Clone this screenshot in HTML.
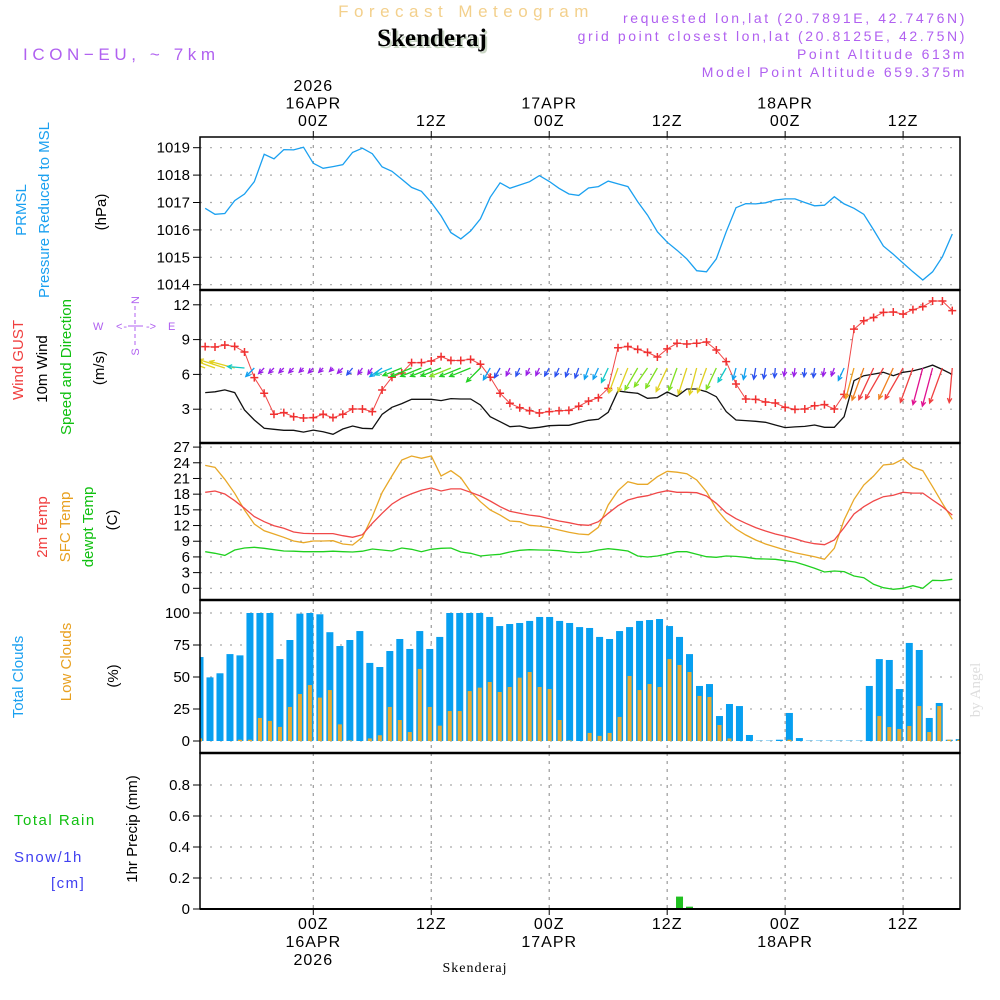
<!DOCTYPE html>
<html><head><meta charset="utf-8"><style>
body{margin:0;background:#fff}
svg{display:block}
text{font-family:"Liberation Sans",sans-serif}
</style></head><body>
<svg id="chart" width="1000" height="1000" viewBox="0 0 1000 1000" xmlns="http://www.w3.org/2000/svg">
<defs>
<clipPath id="c1"><rect x="200" y="137" width="760" height="153"/></clipPath>
<clipPath id="c2"><rect x="200" y="290" width="760" height="153"/></clipPath>
<clipPath id="c3"><rect x="200" y="443" width="760" height="157"/></clipPath>
<clipPath id="c4"><rect x="200" y="600" width="760" height="153"/></clipPath>
<clipPath id="c5"><rect x="200" y="753" width="760" height="156"/></clipPath>
</defs>
<text x="466" y="17" fill="#f3d08c" font-size="17" letter-spacing="5.5" text-anchor="middle">Forecast Meteogram</text>
<text x="434" y="48" fill="#c9d6c4" font-size="25" font-weight="bold" text-anchor="middle" style="font-family:'Liberation Serif',serif">Skenderaj</text>
<text x="432" y="46" fill="#000" font-size="25" font-weight="bold" text-anchor="middle" style="font-family:'Liberation Serif',serif">Skenderaj</text>
<text x="23" y="60" fill="#b060f0" font-size="17" letter-spacing="4.6">ICON−EU, ~ 7km</text>
<g fill="#b060f0" font-size="14" text-anchor="end" letter-spacing="2.6">
<text x="967" y="23">requested lon,lat (20.7891E, 42.7476N)</text>
<text x="967" y="41">grid point closest lon,lat (20.8125E, 42.75N)</text>
<text x="967" y="59">Point Altitude 613m</text>
<text x="967" y="77">Model Point Altitude 659.375m</text>
</g>
<text x="980" y="690" fill="#ddd" font-size="15" transform="rotate(-90 980 690)" text-anchor="middle" style="font-family:'Liberation Serif',serif">by Angel</text>
<g id="grid"></g>
<g id="marks"></g>
<g id="frames"></g>
<g id="labels" font-size="15" fill="#000"></g>
<g font-size="15">
<text transform="translate(26,210) rotate(-90)" text-anchor="middle" fill="#1aa0f0">PRMSL</text>
<text transform="translate(49,210) rotate(-90)" text-anchor="middle" fill="#1aa0f0">Pressure Reduced to MSL</text>
<text transform="translate(106,212) rotate(-90)" text-anchor="middle" fill="#000">(hPa)</text>
</g>
<g font-size="15">
<text transform="translate(23,360) rotate(-90)" text-anchor="middle" fill="#f04040">Wind GUST</text>
<text transform="translate(47,369) rotate(-90)" text-anchor="middle" fill="#000">10m Wind</text>
<text transform="translate(71,367) rotate(-90)" text-anchor="middle" fill="#10c010">Speed and Direction</text>
<text transform="translate(104,368) rotate(-90)" text-anchor="middle" fill="#000">(m/s)</text>
</g>
<g fill="#b060f0" font-size="11">
<text x="0" y="0" transform="translate(139,300) rotate(-90)" text-anchor="middle">N</text>
<text x="0" y="0" transform="translate(139,352) rotate(-90)" text-anchor="middle">S</text>
<text x="93" y="330">W</text>
<text x="168" y="330">E</text>
<text x="116" y="330" letter-spacing="1">&lt;-</text>
<text x="146" y="330">-&gt;</text>
<line x1="135" y1="306" x2="135" y2="346" stroke="#b060f0" stroke-dasharray="4,3"/>
<line x1="128" y1="326" x2="143" y2="326" stroke="#b060f0"/>
</g>
<g font-size="15">
<text transform="translate(47,527) rotate(-90)" text-anchor="middle" fill="#f04040">2m Temp</text>
<text transform="translate(70,527) rotate(-90)" text-anchor="middle" fill="#e8a020">SFC Temp</text>
<text transform="translate(93,527) rotate(-90)" text-anchor="middle" fill="#10c010">dewpt Temp</text>
<text transform="translate(117,520) rotate(-90)" text-anchor="middle" fill="#000">(C)</text>
</g>
<g font-size="15">
<text transform="translate(23,677) rotate(-90)" text-anchor="middle" fill="#1aa0f0">Total Clouds</text>
<text transform="translate(71,662) rotate(-90)" text-anchor="middle" fill="#e8a020">Low Clouds</text>
<text transform="translate(118,676) rotate(-90)" text-anchor="middle" fill="#000">(%)</text>
</g>
<g font-size="15">
<text x="14" y="825" fill="#10c010" letter-spacing="1.5">Total  Rain</text>
<text x="14" y="862" fill="#4040f0" letter-spacing="1.5">Snow/1h</text>
<text x="51" y="888" fill="#4040f0" letter-spacing="1.5">[cm]</text>
<text transform="translate(137,829) rotate(-90)" text-anchor="middle" fill="#000">1hr Precip (mm)</text>
</g>
<text x="475" y="972" font-size="14" text-anchor="middle" style="font-family:'Liberation Serif',serif" letter-spacing="1">Skenderaj</text>
</svg>
<script>
const hours=[];for(let h=-11;h<=65;h++)hours.push(h);
const pressure=[1016.79,1016.57,1016.6,1017.07,1017.31,1017.76,1018.76,1018.59,1018.93,1018.92,1019.02,1018.43,1018.25,1018.31,1018.38,1018.83,1018.98,1018.78,1018.3,1018.14,1017.85,1017.55,1017.41,1017.0,1016.51,1015.9,1015.67,1015.96,1016.4,1017.19,1017.72,1017.52,1017.64,1017.76,1017.98,1017.77,1017.52,1017.31,1017.26,1017.53,1017.58,1017.78,1017.68,1017.58,1017.03,1016.54,1015.93,1015.55,1015.26,1014.94,1014.51,1014.47,1014.94,1015.93,1016.81,1016.96,1016.95,1016.99,1017.09,1017.13,1017.13,1017.0,1016.88,1016.9,1017.21,1016.95,1016.79,1016.57,1016.0,1015.41,1015.11,1014.79,1014.47,1014.17,1014.47,1015.02,1015.85];
const gust=[8.39,8.36,8.53,8.42,7.93,5.72,4.37,2.56,2.7,2.35,2.24,2.27,2.56,2.27,2.56,3.02,3.02,2.79,4.66,5.75,6.12,7.01,7.01,7.16,7.53,7.2,7.2,7.3,6.87,5.75,4.37,3.51,3.13,2.87,2.67,2.79,2.87,2.9,3.25,3.7,3.99,4.8,8.3,8.4,8.16,7.9,7.5,8.2,8.68,8.62,8.68,8.79,8.1,7.1,5.17,3.88,3.85,3.62,3.53,3.16,2.99,3.02,3.3,3.39,3.02,4.28,9.9,10.63,10.9,11.35,11.38,11.2,11.58,11.84,12.33,12.33,11.5];
const wind10=[4.43,4.5,4.66,4.43,2.93,2.07,1.35,1.27,1.18,1.18,1.03,1.2,1.06,0.84,1.29,1.55,1.35,1.32,2.56,3.16,3.48,3.85,3.85,3.85,3.74,3.91,3.88,3.88,3.36,2.35,1.92,1.49,1.55,1.35,1.44,1.58,1.61,1.61,1.84,2.04,2.13,2.73,4.57,4.46,4.37,3.94,4.0,4.48,4.1,4.74,4.74,4.51,4.08,2.79,2.07,2.02,1.96,1.87,1.64,1.41,1.47,1.52,1.64,1.44,1.44,2.35,5.46,5.89,6.03,6.18,5.89,6.18,6.3,6.52,6.8,6.42,6.0];
const windDir=[110,110,108,105,95,45,45,45,45,45,45,45,45,45,45,40,35,35,55,68,68,68,68,68,68,68,68,68,45,30,30,25,25,25,25,30,25,20,20,20,25,25,20,22,30,35,30,25,20,18,15,20,25,30,15,12,10,10,5,8,8,5,8,10,20,25,15,20,25,30,25,30,20,15,15,20,5];
const temp2m=[18.36,18.6,18.03,16.75,15.3,13.7,12.73,11.97,11.47,10.76,10.5,10.45,10.45,10.45,10.06,9.75,10.25,12.43,14.34,16.1,17.27,18.09,18.74,19.18,18.6,19.0,19.0,18.36,17.65,16.7,15.6,14.72,14.34,14.0,13.77,13.3,12.87,12.55,12.17,12.05,12.73,14.34,15.8,16.88,17.4,17.7,18.28,18.66,18.36,18.36,18.28,17.65,16.25,14.46,13.3,12.43,11.6,10.96,10.38,9.94,9.49,8.91,8.53,8.34,9.24,11.6,14.2,15.6,16.7,17.52,17.78,18.36,18.2,18.2,16.88,15.6,14.0];
const tempSfc=[23.5,23.13,20.84,18.16,14.97,12.3,11.0,10.38,9.75,9.04,8.72,9.04,9.04,9.1,8.47,8.28,9.75,13.7,18.3,21.47,24.53,25.3,24.85,25.3,21.47,22.48,21.15,18.47,16.56,14.97,14.0,12.87,12.73,12.05,11.9,11.6,11.15,10.7,10.38,10.25,11.66,15.93,18.66,20.38,19.88,19.88,21.34,22.37,22.2,21.91,20.7,18.47,15.16,12.93,11.34,10.19,9.24,8.47,7.9,7.32,6.81,6.43,6.04,5.54,7.65,13.06,17.0,19.75,21.47,23.58,23.77,24.72,23.13,22.48,19.43,16.25,13.19];
const dewpt=[7.0,6.69,6.3,7.32,7.7,7.84,7.65,7.38,7.13,7.1,7.0,7.0,7.0,7.1,7.0,6.94,7.1,7.51,7.32,7.13,7.7,7.45,7.0,7.45,7.65,7.7,6.94,6.69,6.18,6.37,6.5,6.94,7.26,7.38,7.32,7.3,7.19,6.94,6.82,6.94,7.32,7.57,7.38,7.13,6.18,5.99,6.18,6.56,7.0,7.0,6.5,6.05,5.93,6.18,6.1,5.93,5.66,5.6,5.55,5.28,5.03,4.46,3.82,3.12,3.31,3.19,2.35,2.03,0.76,0.12,-0.2,0.0,0.5,0.0,1.53,1.47,1.72];
const cloudTotal=[65.6,49.7,52.9,67.9,66.9,100,100,100,64,78.9,99.5,100,99,85,74.2,78.9,85.9,61,57.8,70.3,79.7,71.9,85.9,71.9,81.3,100,100,100,100,96.9,89.8,91.4,92.2,93.8,96.9,96.9,93.8,92.2,89,88.3,81.3,79.7,85.9,89,93.8,94.5,95.3,89.8,81.3,67.9,43,44.5,19.5,28.9,27.3,4.7,0.3,0.3,1,21.9,2.3,0.3,0.3,0.3,0.3,0.3,0.3,43,64,63.3,40.6,76.6,71.1,18,29.7,1,1.5];
const cloudLow=[2,0,0,0,1,1,18,15.7,11,26.6,36.7,43.7,33.9,39.8,13,0.5,0,2,4.5,26.6,16.4,7,56.3,26.6,12,23.4,23.4,39,41.7,46.1,38.3,42.2,49.5,53.9,42.2,40.6,16.4,0.5,0,6.3,4,6.3,18.8,50.8,39.8,44.5,42.2,64,59.4,53.9,35.2,34.4,12.5,2,0,0,0,0,0,1,0,0,0,0,0,0,0,0,19.5,10.9,9.4,11.7,27.3,7,27.3,1,1];
const precip=[0,0,0,0,0,0,0,0,0,0,0,0,0,0,0,0,0,0,0,0,0,0,0,0,0,0,0,0,0,0,0,0,0,0,0,0,0,0,0,0,0,0,0,0,0,0,0,0,0.08,0.015,0,0,0,0,0,0,0,0,0,0,0,0,0,0,0,0,0,0,0,0,0,0,0,0,0,0,0];
const pTicks=[1019,1018,1017,1016,1015,1014];
const wTicks=[12,9,6,3];
const tTicks=[27,24,21,18,15,12,9,6,3,0];
const cTicks=[100,75,50,25,0];
const rTicks=[0.8,0.6,0.4,0.2,0];
const timeTicks=[0,12,24,36,48,60];
const topLabels=[["2026","16APR","00Z"],["","","12Z"],["","17APR","00Z"],["","","12Z"],["","18APR","00Z"],["","","12Z"]];
const botLabels=[["00Z","16APR","2026"],["12Z","",""],["00Z","17APR",""],["12Z","",""],["00Z","18APR",""],["12Z","",""]];

const NS="http://www.w3.org/2000/svg";
const X=h=>313.3+9.83*h;
const XB=h=>200+(h+11)*9.99;
const yP=v=>147.7-(v-1019)*27.4;
const yW=v=>444-11.6*v;
const yT=v=>588.3-5.23*v;
const yC=v=>741-1.28*v;
const yR=v=>909-155*v;
function el(tag,attrs,parent){const e=document.createElementNS(NS,tag);for(const k in attrs)e.setAttribute(k,attrs[k]);parent.appendChild(e);return e;}
const grid=document.getElementById('grid'),marks=document.getElementById('marks'),frames=document.getElementById('frames'),labels=document.getElementById('labels');

function axis(ticks,yf,fmt,name){
  ticks.forEach(t=>{
    const y=yf(t);
    const g=el('line',{x1:200,x2:960,y1:y,y2:y,stroke:'#aaa','stroke-width':1.2,'stroke-dasharray':'2,8'},grid);
    
    
    el('line',{x1:193,x2:200,y1:y,y2:y,stroke:'#000'},frames);
    const tx=el('text',{x:190,y:y+5,'text-anchor':'end','font-size':15},labels);
    tx.textContent=fmt(t);
    
    
  });
}
axis(pTicks,yP,t=>t,'pressure');
axis(wTicks,yW,t=>t,'wind');
axis(tTicks,yT,t=>t,'temp');
axis(cTicks,yC,t=>t,'cloud');
axis(rTicks,yR,t=>t===0?'0':t.toFixed(1),'precip');
timeTicks.forEach((h,i)=>{
  const x=X(h);
  const g=el('line',{x1:x,x2:x,y1:137,y2:909,stroke:'#999','stroke-width':1.2,'stroke-dasharray':'3,5'},grid);
  
  
  el('line',{x1:x,x2:x,y1:131,y2:137,stroke:'#000'},frames);
  el('line',{x1:x,x2:x,y1:909,y2:915,stroke:'#000'},frames);
  topLabels[i].forEach((s,j)=>{if(!s)return;const t=el('text',{x:x,y:91+j*17.5,'text-anchor':'middle','font-size':16,'letter-spacing':1},labels);t.textContent=s;
    
    });
  botLabels[i].forEach((s,j)=>{if(!s)return;const t=el('text',{x:x,y:929+j*18,'text-anchor':'middle','font-size':16,'letter-spacing':1},labels);t.textContent=s;
    
    });
});
function line(arr,yf,color,clip,name,w){
  const d=arr.map((v,i)=>(i?'L':'M')+X(hours[i]).toFixed(1)+','+yf(v).toFixed(1)).join('');
  const p=el('path',{d:d,fill:'none',stroke:color,'stroke-width':w||1.3,'clip-path':'url(#'+clip+')'},marks);
  
  
}
line(pressure,yP,'#1aa0f0','c1','pressure-line');
line(wind10,yW,'#111','c2','wind10-line');
line(gust,yW,'#f04848','c2','gust-line',1);
gust.forEach((v,i)=>{
  const x=X(hours[i]),y=yW(v);
  const m=el('path',{d:`M${x-4},${y}H${x+4}M${x},${y-4}V${y+4}`,stroke:'#f03030','stroke-width':1.5,'clip-path':'url(#c2)'},marks);
  
  
});
const spStops=[[0,'#9a1ee8'],[1.5,'#2a50f0'],[2.0,'#10a0f0'],[2.6,'#10c8c8'],[3.3,'#20d020'],[3.9,'#80e020'],[4.4,'#e0d020'],[5.0,'#f0a020'],[5.5,'#f08020'],[6.0,'#f04040'],[6.5,'#e01090']];
function spColor(s){let c=spStops[0][1];spStops.forEach(st=>{if(s>=st[0])c=st[1];});return c;}
wind10.forEach((s,i)=>{
  const x=X(hours[i]),y=368,L=5.8*s,a=windDir[i]*Math.PI/180;
  const dx=-Math.sin(a),dy=Math.cos(a);
  const x2=x+dx*L,y2=y+dy*L;
  const hl=5,ang=0.45;
  const ca=Math.cos(ang),sa=Math.sin(ang);
  const bx=-dx,by=-dy;
  const h1x=x2+hl*(bx*ca-by*sa),h1y=y2+hl*(bx*sa+by*ca);
  const h2x=x2+hl*(bx*ca+by*sa),h2y=y2+hl*(-bx*sa+by*ca);
  const p=el('path',{d:`M${x},${y}L${x2},${y2}M${h1x},${h1y}L${x2},${y2}L${h2x},${h2y}`,fill:'none',stroke:spColor(s),'stroke-width':1.3,'clip-path':'url(#c2)'},marks);
  
  
});
line(tempSfc,yT,'#e8a828','c3','sfc-temp-line');
line(temp2m,yT,'#f04848','c3','temp2m-line');
line(dewpt,yT,'#20d020','c3','dewpt-line');
cloudTotal.forEach((v,i)=>{
  const x=XB(hours[i]);
  const r=el('rect',{x:x-3.5,y:yC(v),width:7,height:yC(0)-yC(v),fill:'#079ff0','clip-path':'url(#c4)'},marks);
  
  
});
cloudLow.forEach((v,i)=>{
  if(v<=0)return;
  const x=XB(hours[i]);
  const r=el('rect',{x:x-2,y:yC(v),width:4,height:yC(0)-yC(v),fill:'#e8aa30','clip-path':'url(#c4)'},marks);
  
  
});
precip.forEach((v,i)=>{
  if(v<=0)return;
  const x=XB(hours[i]);
  const r=el('rect',{x:x-3.5,y:yR(v),width:7,height:yR(0)-yR(v),fill:'#20c020','clip-path':'url(#c5)'},marks);
  
  
});
[[137,290],[290,443],[443,600],[600,753],[753,909]].forEach(([a,b])=>{
  const r=el('rect',{x:200,y:a,width:760,height:b-a,fill:'none',stroke:'#000','stroke-width':1.5},frames);
  
  
});
[290,443,600,753].forEach(y=>{el('line',{x1:200,x2:960,y1:y,y2:y,stroke:'#000','stroke-width':2.5},frames);});
el('line',{x1:200,x2:960,y1:909,y2:909,stroke:'#000','stroke-width':2},frames);
</script>
</body></html>
